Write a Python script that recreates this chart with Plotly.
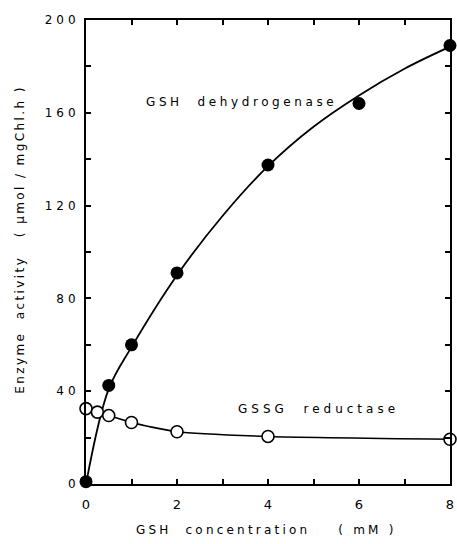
import plotly.graph_objects as go

# Data
gsh_conc_dh = [0, 0.5, 1, 2, 4, 6, 8]
dehydrogenase = [1, 42.5, 60, 91, 137.5, 164, 189]

# smooth fitted curve drawn through the dehydrogenase data
fit_x = [0, 0.5, 1, 2, 3, 4, 5, 6, 7, 8]
fit_y = [0, 41, 59, 90, 115.5, 137, 154, 167.5, 179, 188.5]

gsh_conc_red = [0, 0.25, 0.5, 1, 2, 4, 8]
reductase = [32.5, 31, 29.5, 26.5, 22.5, 20.5, 19.3]

x_ticks = [0, 2, 4, 6, 8]
y_ticks = [0, 40, 80, 120, 160, 200]

FONT = "DejaVu Sans"
SP = '<span style="letter-spacing:{}px">{}</span>'

fig = go.Figure()
fig.add_trace(go.Scatter(x=fit_x, y=fit_y, mode="lines",
                         line=dict(color="black", width=1.8, shape="spline", smoothing=1.0),
                         cliponaxis=False, showlegend=False, hoverinfo="skip"))
fig.add_trace(go.Scatter(x=gsh_conc_dh, y=dehydrogenase, mode="markers",
                         marker=dict(color="black", size=13, line=dict(width=0)),
                         cliponaxis=False, showlegend=False))
fig.add_trace(go.Scatter(x=gsh_conc_red, y=reductase, mode="lines+markers",
                         line=dict(color="black", width=1.6, shape="spline", smoothing=0.6),
                         marker=dict(color="white", size=12, line=dict(color="black", width=1.6)),
                         cliponaxis=False, showlegend=False))

axis_common = dict(showline=True, linecolor="black", linewidth=2, mirror="allticks",
                   ticks="inside", ticklen=5, tickwidth=1.5, tickcolor="black",
                   showgrid=False, zeroline=False, ticklabeloverflow="allow")
fig.update_xaxes(range=[0, 8], tickvals=x_ticks,
                 ticktext=[str(v) for v in x_ticks], ticklabelstandoff=7,
                 tickfont=dict(family=FONT, size=13, color="black"),
                 minor=dict(dtick=1, tick0=0, ticks="inside", ticklen=5, tickwidth=1.5, tickcolor="black"),
                 **axis_common)
fig.update_yaxes(range=[0, 200], tickvals=y_ticks,
                 ticktext=[SP.format(4, v) for v in y_ticks], ticklabelstandoff=2,
                 tickfont=dict(family=FONT, size=12, color="black"),
                 minor=dict(dtick=20, tick0=0, ticks="inside", ticklen=5, tickwidth=1.5, tickcolor="black"),
                 **axis_common)

W, H = 457, 544
L, R, T, B = 86, 3, 20, 60
pw, ph = W - L - R, H - T - B

fig.add_annotation(x=1.28, y=164.5, xref="x", yref="y", xanchor="left", yanchor="middle",
                   text=SP.format(3.6, "GSH  dehydrogenase"),
                   showarrow=False, font=dict(family=FONT, size=12, color="black"))
fig.add_annotation(x=3.3, y=32.5, xref="x", yref="y", xanchor="left", yanchor="middle",
                   text=SP.format(4, "GSSG  reductase"),
                   showarrow=False, font=dict(family=FONT, size=12, color="black"))
fig.add_annotation(x=(268 - L) / pw, y=(H - B - 530) / ph, xref="paper", yref="paper",
                   xanchor="center", yanchor="middle", showarrow=False,
                   text=SP.format(3.2, "GSH  concentration    ( mM )"),
                   font=dict(family=FONT, size=12, color="black"))
fig.add_annotation(x=(19 - L) / pw, y=(H - B - 240) / ph, xref="paper", yref="paper",
                   xanchor="center", yanchor="middle", showarrow=False, textangle=-90,
                   text=SP.format(2.4, "Enzyme  activity   ( μmol / mgChl.h )"),
                   font=dict(family=FONT, size=12, color="black"))

fig.update_layout(width=W, height=H, margin=dict(l=L, r=R, t=T, b=B),
                  plot_bgcolor="white", paper_bgcolor="white",
                  font=dict(family=FONT, color="black"))

fig.write_html("out.html")
